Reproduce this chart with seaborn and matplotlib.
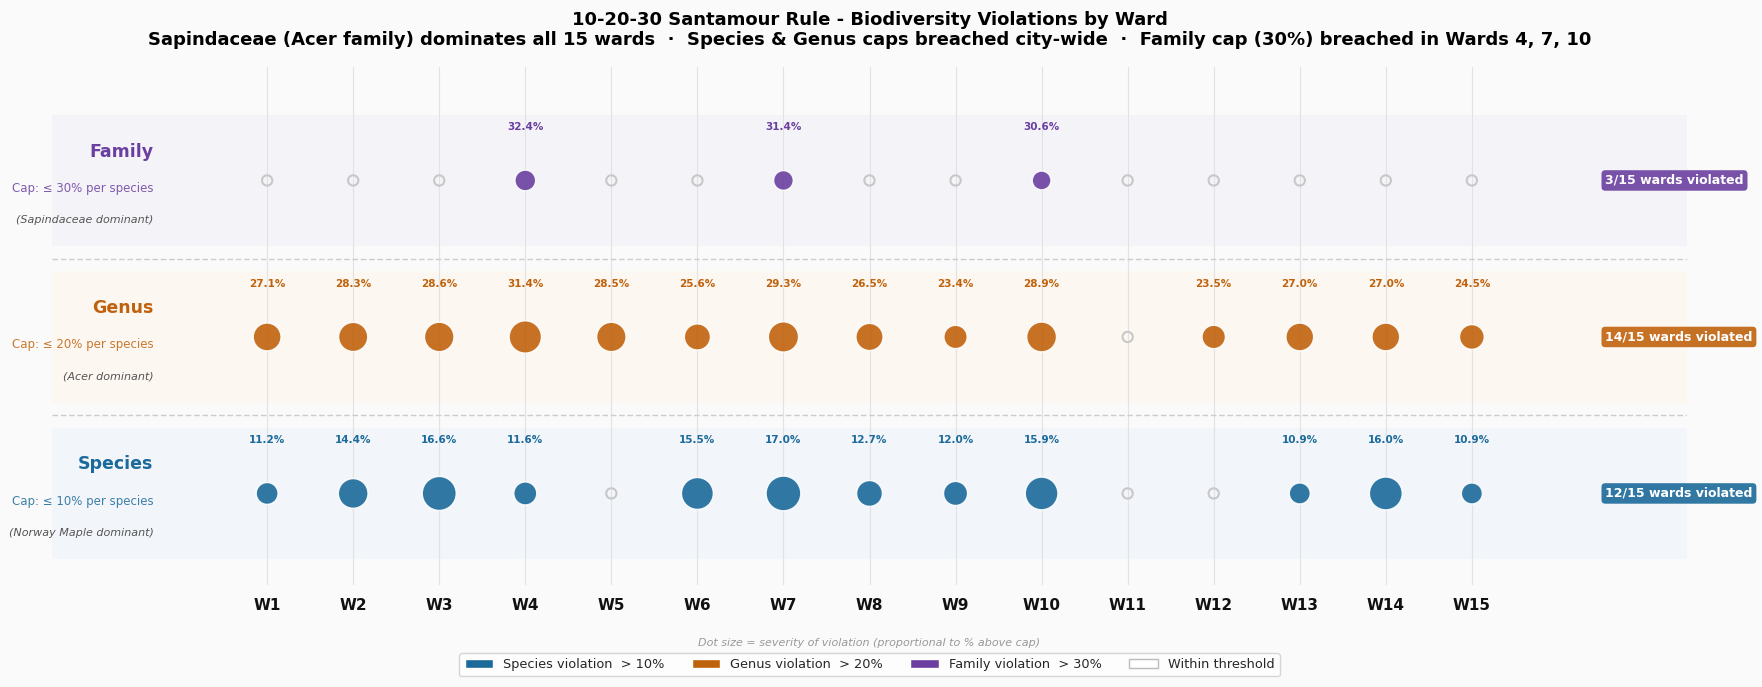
import matplotlib
matplotlib.use("Agg")
import matplotlib.pyplot as plt
import seaborn as sns
import pandas as pd
from matplotlib.patches import Patch

# --- data ---
wards = ["W1", "W2", "W3", "W4", "W5", "W6", "W7", "W8", "W9", "W10",
         "W11", "W12", "W13", "W14", "W15"]
levels = ["Species", "Genus", "Family"]
caps = [10, 20, 30]
notes = ["(Norway Maple dominant)", "(Acer dominant)", "(Sapindaceae dominant)"]

# None = within threshold (value not shown on the chart)
species_pct = [11.2, 14.4, 16.6, 11.6, None, 15.5, 17.0, 12.7, 12.0, 15.9, None, None, 10.9, 16.0, 10.9]
genus_pct = [27.1, 28.3, 28.6, 31.4, 28.5, 25.6, 29.3, 26.5, 23.4, 28.9, None, 23.5, 27.0, 27.0, 24.5]
family_pct = [None, None, None, 32.4, None, None, 31.4, None, None, 30.6, None, None, None, None, None]

colors = ["#1b6a9a", "#c0620c", "#6b3fa0"]
band_colors = ["#f2f5fa", "#fcf7f1", "#f4f3f8"]

rows = []
for li, (lvl, vals, cap) in enumerate(zip(levels, [species_pct, genus_pct, family_pct], caps)):
    for wi, v in enumerate(vals):
        rows.append({"level": lvl, "row": li, "ward": wards[wi], "x": wi + 1, "pct": v, "cap": cap})
df = pd.DataFrame(rows)
df["pct"] = df["pct"].astype(float)
df["violated"] = df["pct"] > df["cap"]
df["severity"] = (df["pct"] - df["cap"]) / df["cap"]

sns.set_theme(style="white")
plt.rcParams["font.family"] = ["DejaVu Sans"]

W, H = 1762, 687
fig = plt.figure(figsize=(W / 100, H / 100), dpi=100, facecolor="#fafafa")
ax = fig.add_axes([52 / W, 102 / H, 1635 / W, 518 / H])
ax.set_facecolor("#fafafa")
ax.set_xlim(-1.5, 17.5)
ax.set_ylim(-0.585, 2.725)

# bands + separators
for i, bc in enumerate(band_colors):
    ax.axhspan(i - 0.42, i + 0.42, color=bc, lw=0, zorder=0)
for i in range(len(levels) - 1):
    ax.axhline(i + 0.5, color="#cccccc", lw=1, ls=(0, (4, 2)), zorder=1)

for li, (lvl, cap, col, note) in enumerate(zip(levels, caps, colors, notes)):
    sub = df[df["level"] == lvl]
    hit = sub[sub["violated"]]
    ok = sub[~sub["violated"]]

    sns.scatterplot(data=hit, x="x", y="row", s=170 + 650 * hit["severity"].to_numpy(),
                    color=col, alpha=0.9, edgecolor="white", linewidth=1,
                    legend=False, ax=ax, zorder=3)
    ax.scatter(ok["x"], ok["row"], s=55, facecolors="none", edgecolors="#c8c8c8",
               linewidths=1.5, zorder=3)

    for _, r in hit.iterrows():
        ax.text(r["x"], li + 0.34, f"{r['pct']:.1f}%", ha="center", va="center",
                fontsize=7.5, fontweight="bold", color=col)

    # row labels on the left
    ax.text(-0.32, li + 0.185, lvl, ha="right", va="center", fontsize=12.5,
            fontweight="bold", color=col)
    ax.text(-0.32, li - 0.05, f"Cap: \u2264 {cap}% per species", ha="right", va="center",
            fontsize=8.5, color=col, alpha=0.85)
    ax.text(-0.32, li - 0.25, note, ha="right", va="center", fontsize=8,
            style="italic", color="#555555")

    # badge on the right
    n = int(hit.shape[0])
    ax.text(16.55, li, f"{n}/{len(wards)} wards violated", ha="left", va="center",
            fontsize=9, fontweight="bold", color="white", clip_on=False,
            bbox=dict(boxstyle="round,pad=0.3", fc=col, ec="none", alpha=0.9))

positions = list(range(1, len(wards) + 1))
ax.set_xticks(positions)
ax.set_xticklabels(wards, fontsize=11, fontweight="bold", color="#111111")
ax.xaxis.grid(True, color="#e2e2e2", lw=0.8)
ax.set_axisbelow(True)
ax.tick_params(axis="x", length=0, pad=9)
ax.set_yticks([])
ax.set_xlabel("")
ax.set_ylabel("")
for s in ax.spines.values():
    s.set_visible(False)

cx = (52 + 1635 / 2) / W
fig.text(cx, 1 - 11 / H,
         "10-20-30 Santamour Rule - Biodiversity Violations by Ward\n"
         "Sapindaceae (Acer family) dominates all 15 wards  \u00b7  Species & Genus caps breached city-wide"
         "  \u00b7  Family cap (30%) breached in Wards 4, 7, 10",
         ha="center", va="top", fontsize=13, fontweight="bold", color="black",
         linespacing=1.15)

fig.text(cx, (H - 643) / H, "Dot size = severity of violation (proportional to % above cap)",
         ha="center", va="center", fontsize=8, style="italic", color="#999999")

handles = [
    Patch(fc=colors[0], label="Species violation  > 10%"),
    Patch(fc=colors[1], label="Genus violation  > 20%"),
    Patch(fc=colors[2], label="Family violation  > 30%"),
    Patch(fc="white", ec="#bbbbbb", label="Within threshold"),
]
fig.legend(handles=handles, loc="lower center", bbox_to_anchor=(cx, 0.006), ncol=4,
           fontsize=9.3, frameon=True, facecolor="white", edgecolor="#cccccc",
           columnspacing=2.1, handlelength=2.2, fancybox=True)

fig.savefig("out.png", dpi=100, facecolor=fig.get_facecolor())
